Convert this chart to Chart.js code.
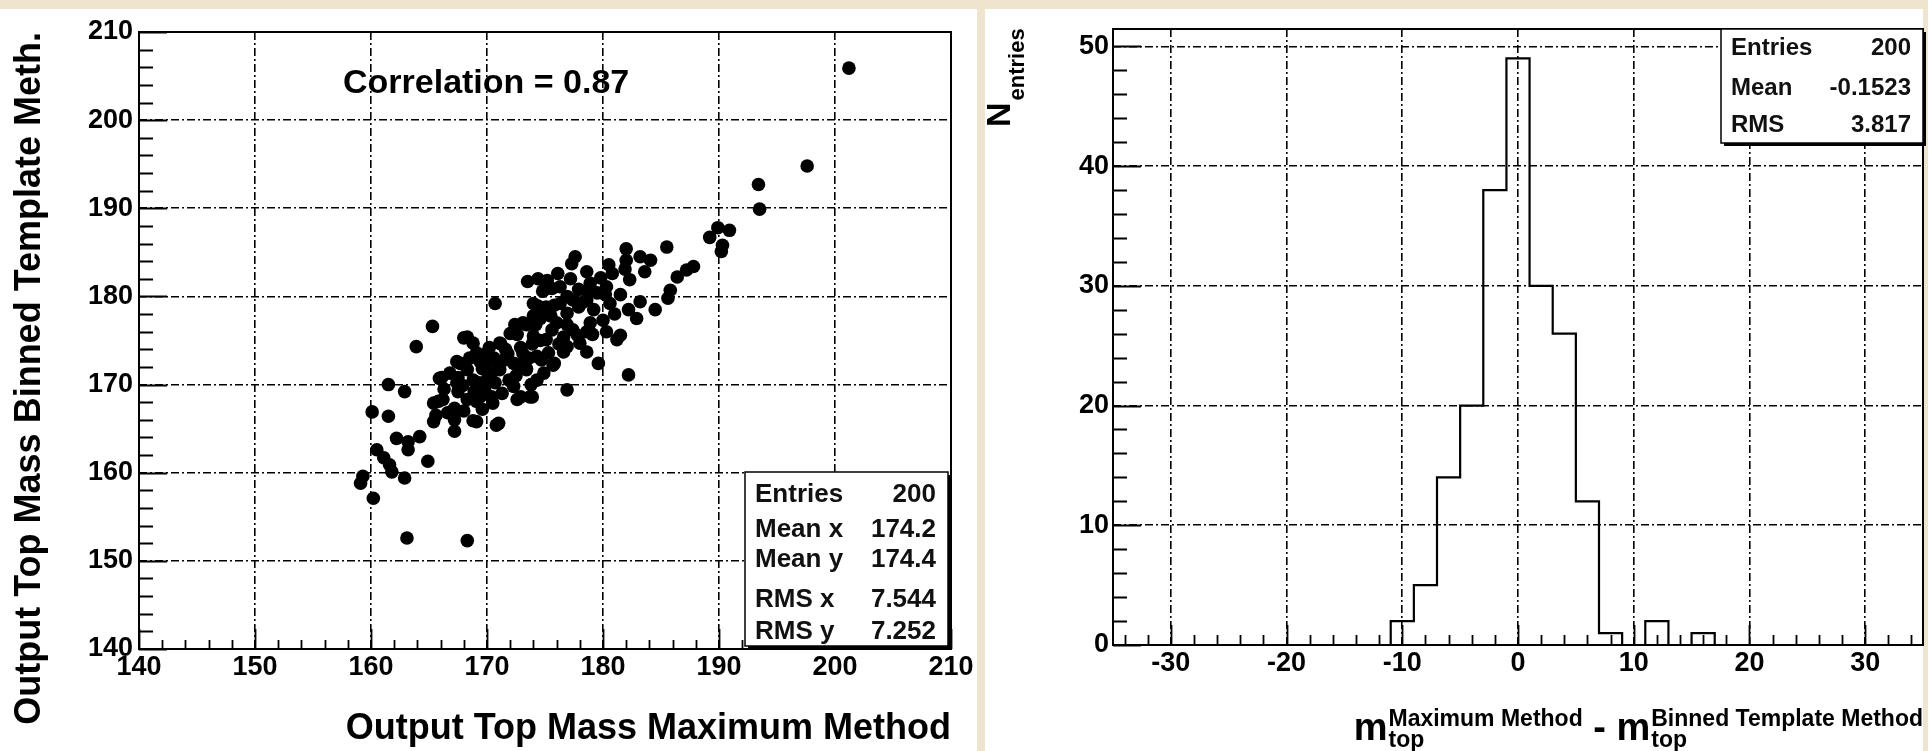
<!DOCTYPE html>
<html>
<head>
<meta charset="utf-8">
<script src="https://cdn.jsdelivr.net/npm/chart.js@4.4.0/dist/chart.umd.min.js"></script>
<style>
  body { margin: 0; background: #efe5cf; width: 1928px; height: 751px; position: relative; overflow: hidden; }
  .panel { position: absolute; background: #fff; }
  canvas { position: absolute; top: 0; }
</style>
</head>
<body>
<div class="panel" style="left:0;top:9px;width:977px;height:742px"></div>
<div class="panel" style="left:985px;top:9px;width:938px;height:742px"></div>
<canvas id="scatter_graph" width="980" height="751" style="left:0"></canvas>
<canvas id="diff_hist" width="948" height="751" style="left:980px"></canvas>
<script>
// left panel: output top mass, maximum method (x) vs binned template method (y)
const maxMethodMass = [
    201.2, 197.6, 193.4, 193.5, 190.9, 189.9, 189.2, 190.2, 190.3, 185.5,
    187.8, 187.2, 186.4, 185.8, 185.6, 184.5, 183.2, 182.9, 182.2, 182.2,
    184.1, 183.2, 182.0, 182.0, 182.3, 181.5, 181.2, 181.5, 180.8, 180.5,
    180.3, 180.6, 180.0, 180.3, 179.6, 179.5, 179.2, 178.9, 178.9, 178.6,
    178.6, 178.6, 178.6, 178.0, 177.6, 177.3, 177.2, 177.4, 177.4, 176.9,
    176.9, 176.6, 176.6, 176.3, 176.3, 176.0, 175.7, 175.1, 175.1, 174.9,
    174.9, 175.8, 175.6, 174.8, 174.5, 174.2, 174.0, 173.9, 173.5, 173.4,
    173.1, 173.1, 173.9, 172.9, 173.4, 174.3, 173.4, 173.7, 172.6, 172.3,
    172.3, 172.6, 171.8, 171.7, 171.2, 171.1, 171.1, 170.9, 170.7, 170.7,
    170.4, 170.5, 171.0, 170.0, 169.9, 169.6, 169.7, 169.4, 169.3, 169.1,
    169.1, 168.8, 169.1, 168.8, 168.8, 168.3, 168.0, 167.7, 168.3, 168.3,
    167.5, 167.4, 167.4, 167.5, 167.2, 167.2, 167.2, 168.3, 166.8, 166.2,
    166.1, 165.9, 165.8, 165.6, 165.4, 165.4, 165.3, 164.9, 164.2, 163.9,
    163.2, 163.2, 162.9, 162.9, 163.1, 162.2, 161.5, 161.5, 161.1, 161.6,
    161.8, 160.5, 160.1, 160.2, 159.3, 159.1, 180.2, 178.8, 176.9, 176.9,
    176.9, 175.8, 175.6, 179.1, 174.6, 174.0, 173.6, 172.9, 172.5, 171.9,
    171.5, 170.6, 170.3, 169.8, 168.9, 168.0, 167.9, 166.6, 166.3, 172.0,
    174.4, 174.6, 175.3, 174.3, 172.8, 171.3, 170.1, 175.5, 177.9, 179.8,
    181.0, 177.9, 176.1, 174.4, 172.4, 171.6, 169.4, 168.5, 173.8, 174.7,
    176.2, 177.8, 178.2, 181.9, 183.6, 170.2, 174.0, 169.6, 175.2, 170.8
];
const binnedMethodMass = [
    205.9, 194.8, 192.7, 189.9, 187.5, 187.8, 186.7, 185.1, 185.8, 185.6,
    183.4, 183.0, 182.2, 180.7, 179.8, 178.5, 179.4, 177.5, 178.5, 171.1,
    184.1, 184.5, 185.4, 184.1, 181.9, 180.2, 175.1, 175.6, 182.6, 183.6,
    181.1, 179.2, 177.3, 176.0, 172.4, 180.4, 178.5, 181.5, 177.0, 182.8,
    179.6, 176.0, 173.7, 174.7, 184.5, 183.7, 182.0, 179.6, 176.2, 178.1,
    169.4, 175.4, 173.7, 181.1, 179.2, 177.0, 172.2, 178.8, 175.1, 180.7,
    171.3, 172.4, 180.9, 180.6, 178.4, 176.8, 179.2, 174.6, 181.7, 176.8,
    177.0, 173.5, 168.6, 168.6, 171.8, 173.2, 171.7, 168.6, 175.7, 172.4,
    169.8, 168.3, 173.5, 173.2, 174.6, 174.7, 171.7, 172.4, 179.2, 170.2,
    168.6, 167.9, 165.6, 172.4, 173.5, 171.8, 170.2, 168.6, 170.2, 168.1,
    173.6, 165.9, 165.8, 170.5, 174.7, 175.4, 175.3, 172.4, 171.7, 168.3,
    170.8, 172.6, 170.2, 169.2, 167.3, 166.0, 164.7, 152.3, 171.3, 168.3,
    170.8, 170.7, 168.1, 166.5, 167.9, 165.8, 176.6, 161.3, 164.1, 174.3,
    163.5, 162.6, 169.2, 159.4, 152.6, 163.9, 170.0, 166.4, 161.7, 160.9,
    160.1, 162.6, 166.9, 157.1, 159.6, 158.8, 180.2, 180.6, 180.0, 176.8,
    174.3, 179.0, 176.2, 175.7, 177.5, 175.5, 173.0, 174.2, 171.0, 170.5,
    172.8, 173.0, 171.2, 169.4, 169.2, 167.0, 169.9, 166.8, 169.5, 175.8,
    178.9, 175.0, 173.6, 170.5, 172.2, 169.0, 170.8, 177.8, 178.8, 182.1,
    178.0, 180.8, 182.6, 182.0, 176.8, 174.0, 172.6, 173.0, 170.0, 172.8,
    174.6, 175.6, 179.3, 183.1, 182.8, 174.2, 177.8, 167.2, 181.8, 165.4
];
const massTicks = [140, 150, 160, 170, 180, 190, 200, 210];
const scatterStatNames = ['Entries', 'Mean x', 'Mean y', 'RMS x', 'RMS y'];
const scatterStatValues = ['200', '174.2', '174.4', '7.544', '7.252'];

// right panel: difference of the two methods, 2 GeV bins from -35 to 35
const diffBinCounts = [
    0, 0, 0, 0, 0, 0, 0, 0, 0, 0, 0, 0, 2, 5, 14, 20, 38, 49,
    30, 26, 12, 1, 0, 2, 0, 1, 0, 0, 0, 0, 0, 0, 0, 0, 0
];
const diffTicks = [-30, -20, -10, 0, 10, 20, 30];
const countTicks = [0, 10, 20, 30, 40, 50];
const diffStatNames = ['Entries', 'Mean', 'RMS'];
const diffStatValues = ['200', '-0.1523', '3.817'];
const diffTitleSup = ['Maximum Method', 'Binned Template Method'];

const FONT = '"Liberation Sans", Arial, sans-serif';

// ROOT style: frame, inward ticks, stats box
const rootFrame = {
    id: 'rootFrame',
    afterDatasetsDraw(chart, args, opts) {
        const ctx = chart.ctx;
        const a = chart.chartArea;
        const sx = chart.scales.x;
        const sy = chart.scales.y;
        ctx.save();
        ctx.strokeStyle = '#000';
        ctx.lineWidth = 1.8;
        ctx.beginPath();
        for (let v = Math.ceil(sx.min / 2) * 2; v <= sx.max; v += 2) {
            let px = Math.round(sx.getPixelForValue(v)) + 0.5;
            let len = v % 10 === 0 ? opts.xLen[1] : opts.xLen[0];
            ctx.moveTo(px, a.bottom);
            ctx.lineTo(px, a.bottom - len);
        }
        for (let v = Math.ceil(sy.min / 2) * 2; v <= sy.max; v += 2) {
            let py = Math.round(sy.getPixelForValue(v)) + 0.5;
            let len = v % 10 === 0 ? opts.yLen[1] : opts.yLen[0];
            ctx.moveTo(a.left, py);
            ctx.lineTo(a.left + len, py);
        }
        ctx.stroke();

        ctx.lineWidth = 2;
        ctx.strokeRect(a.left, a.top, a.right - a.left, a.bottom - a.top);

        // stats box
        const s = opts.stats;
        const bx = a.right - s.inset - s.w;
        const by = s.atTop ? a.top : a.bottom - s.inset - s.h;
        ctx.fillStyle = '#fff';
        ctx.fillRect(bx, by, s.w, s.h);
        ctx.fillStyle = '#000';
        ctx.fillRect(bx + 3, by + s.h, s.w, 3);
        ctx.fillRect(bx + s.w, by + 3, 3, s.h);
        ctx.lineWidth = 1.5;
        ctx.strokeRect(bx, by, s.w, s.h);
        ctx.font = s.font;
        ctx.fillStyle = '#111';
        for (let i = 0; i < s.names.length; i++) {
            ctx.textAlign = 'left';
            ctx.fillText(s.names[i], bx + 10, by + s.rows[i]);
            ctx.textAlign = 'right';
            ctx.fillText(s.values[i], bx + s.w - 12, by + s.rows[i]);
        }
        ctx.restore();
    }
};

function axisOptions(min, max, tickValues, width, height, title, titleOpts) {
    return {
        type: 'linear',
        min: min,
        max: max,
        afterBuildTicks: scale => { scale.ticks = tickValues.map(v => ({ value: v })); },
        afterFit: scale => {
            if (width) scale.width = width;
            if (height) scale.height = height;
        },
        ticks: {
            autoSkip: false,
            maxRotation: 0,
            color: '#000',
            padding: titleOpts.tickPad,
            font: { family: FONT, size: titleOpts.tickSize, weight: 'bold' }
        },
        grid: { color: '#000', lineWidth: 1.6, drawTicks: false },
        border: { display: false, dash: [8, 3, 2, 3] },
        title: {
            display: !!title,
            text: title,
            align: 'end',
            color: '#000',
            padding: titleOpts.titlePad,
            font: { family: FONT, size: 36, weight: 'bold' }
        }
    };
}

const scatterPoints = maxMethodMass.map((m, i) => ({ x: m, y: binnedMethodMass[i] }));

new Chart(document.getElementById('scatter_graph'), {
    type: 'scatter',
    data: {
        datasets: [{
            data: scatterPoints,
            pointRadius: 6.8,
            pointBackgroundColor: '#000',
            pointBorderWidth: 0
        }]
    },
    options: {
        responsive: false,
        animation: false,
        layout: { padding: { left: 0, top: 32, right: 29, bottom: 0 } },
        scales: {
            x: axisOptions(140, 210, massTicks, 0, 102, 'Output Top Mass Maximum Method',
                { tickPad: 2, tickSize: 27, titlePad: { top: 0, bottom: 0 } }),
            y: axisOptions(140, 210, massTicks, 139, 0, 'Output Top Mass Binned Template Meth.',
                { tickPad: 6, tickSize: 27, titlePad: { top: 8, bottom: 0 } })
        },
        plugins: {
            legend: { display: false },
            tooltip: { enabled: false },
            rootFrame: {
                xLen: [9, 20],
                yLen: [14, 28],
                stats: {
                    names: scatterStatNames, values: scatterStatValues,
                    w: 203, h: 174, inset: 3, atTop: false,
                    rows: [30, 65, 95, 135, 167],
                    font: 'bold 26px ' + FONT
                }
            }
        }
    },
    plugins: [rootFrame, {
        id: 'correlationLabel',
        afterDraw(chart) {
            const ctx = chart.ctx;
            ctx.save();
            ctx.fillStyle = '#000';
            ctx.font = 'bold 34px ' + FONT;
            ctx.textBaseline = 'alphabetic';
            ctx.fillText('Correlation = 0.87', chart.chartArea.left + 204, 93);
            ctx.restore();
        }
    }]
});

// histogram outline as a stepped line through the bin edges
const histPoints = diffBinCounts.map((c, i) => ({ x: -35 + 2 * i, y: c }));
histPoints.push({ x: 35, y: 0 });

new Chart(document.getElementById('diff_hist'), {
    type: 'scatter',
    data: {
        datasets: [{
            data: histPoints,
            showLine: true,
            stepped: true,
            pointRadius: 0,
            borderColor: '#000',
            borderWidth: 2.2,
            fill: false
        }]
    },
    options: {
        responsive: false,
        animation: false,
        layout: { padding: { left: 0, top: 29, right: 5, bottom: 0 } },
        scales: {
            x: axisOptions(-35, 35, diffTicks, 0, 106, '',
                { tickPad: 2, tickSize: 27, titlePad: 0 }),
            y: axisOptions(0, 51.45, countTicks, 133, 0, '',
                { tickPad: 4, tickSize: 27, titlePad: 0 })
        },
        plugins: {
            legend: { display: false },
            tooltip: { enabled: false },
            rootFrame: {
                xLen: [10, 20],
                yLen: [14, 28],
                stats: {
                    names: diffStatNames, values: diffStatValues,
                    w: 202, h: 114, inset: 0, atTop: true,
                    rows: [26, 66, 103],
                    font: 'bold 24px ' + FONT
                }
            }
        }
    },
    plugins: [rootFrame, {
        id: 'diffTitles',
        afterDraw(chart) {
            const ctx = chart.ctx;
            const a = chart.chartArea;
            const big = 'bold 38px ' + FONT;
            const small = 'bold 23px ' + FONT;
            ctx.save();
            ctx.fillStyle = '#000';
            ctx.textBaseline = 'alphabetic';
            ctx.textAlign = 'left';

            // x title: m_top^{Maximum Method} - m_top^{Binned Template Method}
            ctx.font = big;
            const mW = ctx.measureText('m').width;
            const sepW = ctx.measureText(' - ').width;
            ctx.font = small;
            const groups = diffTitleSup.map(t => mW + Math.max(ctx.measureText(t).width, ctx.measureText('top').width) + 1);
            let x = a.right - (groups[0] + sepW + groups[1]);
            for (let i = 0; i < 2; i++) {
                ctx.font = big;
                ctx.fillText('m', x, 740);
                ctx.font = small;
                ctx.fillText(diffTitleSup[i], x + mW + 1, 726);
                ctx.fillText('top', x + mW + 1, 747);
                x += groups[i];
                if (i === 0) {
                    ctx.font = big;
                    ctx.fillText(' - ', x, 740);
                    x += sepW;
                }
            }

            // y title: N_entries
            ctx.translate(a.left - 103, 127);
            ctx.rotate(-Math.PI / 2);
            ctx.font = 'bold 34px ' + FONT;
            ctx.fillText('N', 0, 0);
            const nW = ctx.measureText('N').width;
            ctx.font = 'bold 22px ' + FONT;
            ctx.fillText('entries', nW + 2, 14);
            ctx.restore();
        }
    }]
});
</script>
</body>
</html>
